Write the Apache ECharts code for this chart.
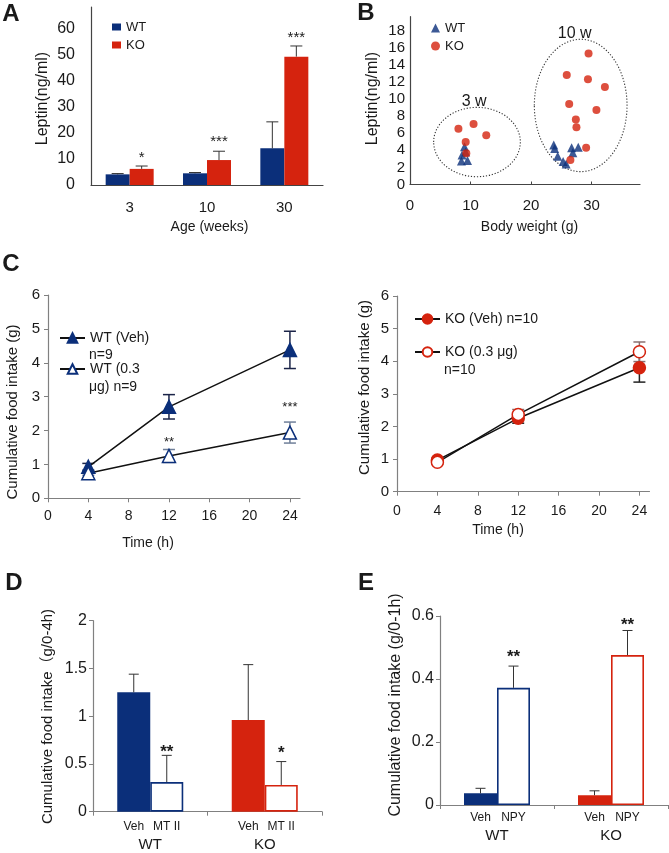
<!DOCTYPE html>
<html><head><meta charset="utf-8">
<script src="https://cdn.jsdelivr.net/npm/echarts@6/dist/echarts.min.js"></script>
<style>html,body{margin:0;padding:0;background:#fff}#c{width:669px;height:853px}</style>
</head><body><div id="c"></div>
<script>
// ---------- Panel A: leptin by age ----------
const ageWeeks = ['3', '10', '30'];
const leptinWT = [4.1, 4.5, 14.1];
const leptinWTErr = [0.3, 0.3, 10.2];
const leptinKO = [6.2, 9.6, 49.4];
const leptinKOErr = [1.1, 3.4, 4.1];
const leptinSig = ['*', '***', '***'];
const leptinSigY = [11.9, 18.0, 58.0];

// ---------- Panel B: leptin vs body weight ----------
const bWTWeight = [8.5, 9.5, 8.6, 9.0, 9.2, 23.75, 23.9, 24.4, 25.3, 25.8, 26.7, 26.9, 27.8];
const bWTLeptin = [2.75, 2.8, 3.45, 4.4, 3.8, 4.6, 4.2, 3.3, 2.7, 2.4, 4.3, 3.7, 4.35];
const bKOWeight = [8.0, 10.5, 12.6, 9.2, 9.3, 29.5, 25.9, 29.4, 32.2, 26.3, 30.8, 27.4, 27.5, 29.1, 26.5];
const bKOLeptin = [6.5, 7.07, 5.75, 4.97, 3.64, 15.3, 12.8, 12.3, 11.4, 9.4, 8.7, 7.6, 6.7, 4.3, 2.86];
const ageGroups = ['3 w', '10 w'];
const groupCenterW = [11.07, 28.2];
const groupCenterL = [4.96, 9.23];
const groupSpreadW = [7.16, 7.66];
const groupSpreadL = [4.05, 7.73];
const groupLabelW = [10.6, 27.2];
const groupLabelL = [9.7, 17.6];

// ---------- Panel C: cumulative food intake ----------
const timeH = [4, 12, 24];
const wtVeh = [0.93, 2.70, 4.38], wtVehErr = [0.10, 0.36, 0.55];
const wtMT = [0.74, 1.25, 1.94], wtMTErr = [0.06, 0.19, 0.31];
const koVeh = [0.97, 2.25, 3.80], koVehErr = [0.06, 0.15, 0.44];
const koMT = [0.90, 2.37, 4.29], koMTErr = [0.05, 0.15, 0.30];
const cSigT = [12, 24], cSigY = [1.74, 2.77], cSig = ['**', '***'];

// ---------- Panel D: MT II ----------
const dGroups = ['WT', 'KO'];
const dVeh = [1.25, 0.96], dVehErr = [0.19, 0.58];
const dMT = [0.31, 0.28], dMTErr = [0.28, 0.245];
const dSig = ['**', '*'], dSigY = [0.664, 0.653];

// ---------- Panel E: NPY ----------
const eGroups = ['WT', 'KO'];
const eVeh = [0.037, 0.031], eVehErr = [0.016, 0.014];
const eNPY = [0.372, 0.476], eNPYErr = [0.069, 0.078];
const eSig = ['**', '**'], eSigY = [0.482, 0.582];

// ---------- styles ----------
const FONT = "'Liberation Sans', Arial, 'Noto Sans CJK JP', sans-serif";
const NAVY = '#0b2f7a', RED = '#d5230e', AX = '#444', AXC = '#808080', TXT = '#1a1a1a';
const groupColors = [NAVY, RED];

function errBars(offset, capHalf, twoSided, color, width) {
  return function (params, api) {
    const x = api.value(0), v = api.value(1), e = api.value(2);
    const top = api.coord([x, v + e]);
    const mid = api.coord([x, v]);
    const bot = api.coord([x, v - e]);
    const cx = mid[0] + offset;
    const y0 = twoSided ? bot[1] : mid[1];
    const style = { stroke: color, lineWidth: width };
    const children = [
      { type: 'line', shape: { x1: cx, y1: y0, x2: cx, y2: top[1] }, style },
      { type: 'line', shape: { x1: cx - capHalf, y1: top[1], x2: cx + capHalf, y2: top[1] }, style }
    ];
    if (twoSided) children.push({ type: 'line', shape: { x1: cx - capHalf, y1: bot[1], x2: cx + capHalf, y2: bot[1] }, style });
    return { type: 'group', children };
  };
}
function sigText(texts, offset, size, bold) {
  return function (params, api) {
    const p = api.coord([api.value(0), api.value(1)]);
    return {
      type: 'text', x: p[0] + offset, y: p[1] + 0.23 * size,
      style: { text: texts[params.dataIndex], fill: TXT, font: (bold ? 'bold ' : '') + size + 'px ' + FONT,
        textAlign: 'center', textVerticalAlign: 'middle', align: 'center', verticalAlign: 'middle' }
    };
  };
}
function ellipseRender(params, api) {
  const i = params.dataIndex;
  const c = api.coord([api.value(0), api.value(1)]);
  const s = api.size([api.value(2), api.value(3)]);
  const lp = api.coord([groupLabelW[i], groupLabelL[i]]);
  return { type: 'group', children: [
    { type: 'ellipse', shape: { cx: c[0], cy: c[1], rx: s[0], ry: s[1] },
      style: { fill: 'none', stroke: '#333', lineWidth: 1.1, lineDash: [1.2, 1.8] } },
    { type: 'text', x: lp[0], y: lp[1], style: { text: ageGroups[i], fill: TXT, font: '16px ' + FONT,
      textAlign: 'center', textVerticalAlign: 'middle', align: 'center', verticalAlign: 'middle' } }
  ]};
}

const lbl = (size, extra) => Object.assign({ color: TXT, fontSize: size, fontFamily: FONT }, extra || {});
const axLine = (c) => ({ show: true, lineStyle: { color: c, width: 1.2 } });

const grids = [
  { left: 91, top: 7, width: 232, height: 178 },
  { left: 410, top: 16.7, width: 230, height: 167.8 },
  { left: 48, top: 295, width: 252, height: 203.3 },
  { left: 397, top: 296, width: 252.5, height: 195.7 },
  { left: 93, top: 620.7, width: 229, height: 191 },
  { left: 440, top: 616, width: 228, height: 189 }
].map(g => Object.assign({ containLabel: false, outerBoundsMode: 'none' }, g));

const xAxes = [
  { type: 'category', gridIndex: 0, data: ageWeeks, axisLine: axLine(AX), axisTick: { show: false },
    axisLabel: lbl(15, { margin: 15 }) },
  { type: 'value', gridIndex: 1, min: 0, max: 38, interval: 10, splitLine: { show: false }, axisLine: axLine(AX),
    axisTick: { show: true, inside: true, length: 3, lineStyle: { color: AX } }, axisLabel: lbl(15, { margin: 14, showMaxLabel: false }) },
  { type: 'value', gridIndex: 2, min: 0, max: 25, interval: 4, splitLine: { show: false }, axisLine: axLine(AXC),
    axisTick: { show: true, length: 4, lineStyle: { color: AXC } }, axisLabel: lbl(14, { margin: 11, showMaxLabel: false }) },
  { type: 'value', gridIndex: 3, min: 0, max: 25, interval: 4, splitLine: { show: false }, axisLine: axLine(AXC),
    axisTick: { show: true, length: 4, lineStyle: { color: AXC } }, axisLabel: lbl(14, { margin: 12, showMaxLabel: false }) },
  { type: 'category', gridIndex: 4, data: dGroups, axisLine: axLine(AXC),
    axisTick: { show: true, length: 4, lineStyle: { color: AXC } }, axisLabel: lbl(15, { margin: 26 }) },
  { type: 'category', gridIndex: 5, data: eGroups, axisLine: axLine(AXC),
    axisTick: { show: true, length: 4, lineStyle: { color: AXC } }, axisLabel: lbl(15, { margin: 23 }) }
];
const yAxes = [
  { type: 'value', gridIndex: 0, min: 0, max: 68.5, interval: 10, splitLine: { show: false }, axisLine: axLine(AX),
    axisTick: { show: false }, axisLabel: lbl(16, { margin: 16, showMaxLabel: false }) },
  { type: 'value', gridIndex: 1, min: 0, max: 19.6, interval: 2, splitLine: { show: false }, axisLine: axLine(AX),
    axisTick: { show: false }, axisLabel: lbl(15, { margin: 5, showMaxLabel: false }) },
  { type: 'value', gridIndex: 2, min: 0, max: 6, interval: 1, splitLine: { show: false }, axisLine: axLine(AXC),
    axisTick: { show: true, length: 4, lineStyle: { color: AXC } }, axisLabel: lbl(15, { margin: 8 }) },
  { type: 'value', gridIndex: 3, min: 0, max: 6, interval: 1, splitLine: { show: false }, axisLine: axLine(AXC),
    axisTick: { show: true, length: 4, lineStyle: { color: AXC } }, axisLabel: lbl(15, { margin: 8 }) },
  { type: 'value', gridIndex: 4, min: 0, max: 2, interval: 0.5, splitLine: { show: false }, axisLine: axLine(AXC),
    axisTick: { show: true, length: 4, lineStyle: { color: AXC } }, axisLabel: lbl(16, { margin: 6 }) },
  { type: 'value', gridIndex: 5, min: 0, max: 0.6, interval: 0.2, splitLine: { show: false }, axisLine: axLine(AXC),
    axisTick: { show: true, length: 4, lineStyle: { color: AXC } }, axisLabel: lbl(16, { margin: 6 }) }
];

const series = [];
// A
series.push({ name: 'WT', type: 'bar', xAxisIndex: 0, yAxisIndex: 0, data: leptinWT, barWidth: 24, barGap: '0%', itemStyle: { color: NAVY } });
series.push({ name: 'KO', type: 'bar', xAxisIndex: 0, yAxisIndex: 0, data: leptinKO, barWidth: 24, barGap: '0%', itemStyle: { color: RED } });
series.push({ type: 'custom', xAxisIndex: 0, yAxisIndex: 0, silent: true, z: 3, encode: { x: 0, y: 1 },
  data: leptinWT.map((v, i) => [i, v, leptinWTErr[i]]), renderItem: errBars(-12, 6, false, '#333', 1) });
series.push({ type: 'custom', xAxisIndex: 0, yAxisIndex: 0, silent: true, z: 3, encode: { x: 0, y: 1 },
  data: leptinKO.map((v, i) => [i, v, leptinKOErr[i]]), renderItem: errBars(12, 6, false, '#333', 1) });
series.push({ type: 'custom', xAxisIndex: 0, yAxisIndex: 0, silent: true, z: 3, encode: { x: 0, y: 1 },
  data: leptinSigY.map((y, i) => [i, y]), renderItem: sigText(leptinSig, 12, 15, false) });
// B
series.push({ type: 'custom', xAxisIndex: 1, yAxisIndex: 1, silent: true, z: 1, encode: { x: 0, y: 1 },
  data: groupCenterW.map((w, i) => [w, groupCenterL[i], groupSpreadW[i], groupSpreadL[i]]), renderItem: ellipseRender });
series.push({ name: 'WT ', type: 'scatter', xAxisIndex: 1, yAxisIndex: 1, symbol: 'triangle', symbolSize: 9,
  itemStyle: { color: NAVY }, data: bWTWeight.map((w, i) => [w, bWTLeptin[i]]), z: 3 });
series.push({ name: 'KO ', type: 'scatter', xAxisIndex: 1, yAxisIndex: 1, symbol: 'circle', symbolSize: 8,
  itemStyle: { color: RED }, data: bKOWeight.map((w, i) => [w, bKOLeptin[i]]), z: 3 });
// C
function lineSeries(name, xi, vals, symbol, fill, border) {
  return { name, type: 'line', xAxisIndex: xi, yAxisIndex: xi, data: timeH.map((t, i) => [t, vals[i]]),
    symbol, symbolSize: symbol === 'triangle' ? 13 : 12, showSymbol: true, z: 4,
    lineStyle: { color: '#111', width: 1.5 }, itemStyle: { color: fill, borderColor: border, borderWidth: 1.5 } };
}
function errSeries(xi, vals, errs, color) {
  return { type: 'custom', xAxisIndex: xi, yAxisIndex: xi, silent: true, z: 2, encode: { x: 0, y: 1 },
    data: timeH.map((t, i) => [t, vals[i], errs[i]]), renderItem: errBars(0, 6, true, color, 1.5) };
}
series.push(errSeries(2, wtVeh, wtVehErr, '#1b2448'));
series.push(errSeries(2, wtMT, wtMTErr, '#6f7f99'));
series.push(lineSeries('WT (Veh)', 2, wtVeh, 'triangle', NAVY, NAVY));
series.push(lineSeries('WT (0.3 μg)', 2, wtMT, 'triangle', '#fff', NAVY));
series.push({ type: 'custom', xAxisIndex: 2, yAxisIndex: 2, silent: true, z: 3, encode: { x: 0, y: 1 },
  data: cSigT.map((t, i) => [t, cSigY[i]]), renderItem: sigText(cSig, 0, 13, false) });
series.push(errSeries(3, koVeh, koVehErr, '#222'));
series.push(errSeries(3, koMT, koMTErr, '#8a7070'));
series.push(lineSeries('KO (Veh)', 3, koVeh, 'circle', RED, RED));
series.push(lineSeries('KO (0.3 μg)', 3, koMT, 'circle', '#fff', RED));
// D & E
function groupBars(xi, name, vals, filled, under, underDist) {
  return { name, type: 'bar', xAxisIndex: xi, yAxisIndex: xi, barWidth: 33, barGap: '0%',
    data: vals.map((v, i) => ({ value: v, itemStyle: filled ? { color: groupColors[i] } :
      { color: '#fff', borderColor: groupColors[i], borderWidth: 1.6 } })),
    label: { show: true, position: 'bottom', distance: underDist, formatter: under, color: TXT, fontSize: 12, fontFamily: FONT } };
}
function barErr(xi, vals, errs, offset) {
  return { type: 'custom', xAxisIndex: xi, yAxisIndex: xi, silent: true, z: 3, encode: { x: 0, y: 1 },
    data: vals.map((v, i) => [i, v, errs[i]]), renderItem: errBars(offset, 5, false, '#333', 1) };
}
series.push(groupBars(4, 'Veh', dVeh, true, 'Veh', 9));
series.push(groupBars(4, 'MT II', dMT, false, 'MT II', 9));
series.push(barErr(4, dVeh, dVehErr, -16.5));
series.push(barErr(4, dMT, dMTErr, 16.5));
series.push({ type: 'custom', xAxisIndex: 4, yAxisIndex: 4, silent: true, z: 3, encode: { x: 0, y: 1 },
  data: dSigY.map((y, i) => [i, y]), renderItem: sigText(dSig, 16.5, 17, true) });
series.push(groupBars(5, 'Veh', eVeh, true, 'Veh', 7));
series.push(groupBars(5, 'NPY', eNPY, false, 'NPY', 7));
series.push(barErr(5, eVeh, eVehErr, -16.5));
series.push(barErr(5, eNPY, eNPYErr, 16.5));
series.push({ type: 'custom', xAxisIndex: 5, yAxisIndex: 5, silent: true, z: 3, encode: { x: 0, y: 1 },
  data: eSigY.map((y, i) => [i, y]), renderItem: sigText(eSig, 16.5, 17, true) });

const legBase = { orient: 'vertical', padding: 0, selectedMode: false };
const legends = [
  Object.assign({ data: ['WT'], left: 112, top: 20.5, icon: 'rect', itemWidth: 9, itemHeight: 7, textStyle: lbl(13) }, legBase),
  Object.assign({ data: ['KO'], left: 112, top: 38.5, icon: 'rect', itemWidth: 9, itemHeight: 7, textStyle: lbl(13) }, legBase),
  Object.assign({ data: ['WT '], left: 431, top: 21.5, itemWidth: 9, itemHeight: 9, textStyle: lbl(13), formatter: n => n.trim() }, legBase),
  Object.assign({ data: ['KO '], left: 431, top: 39.5, itemWidth: 9, itemHeight: 9, textStyle: lbl(13), formatter: n => n.trim() }, legBase),
  Object.assign({ data: ['WT (Veh)'], left: 59, top: 331, itemWidth: 25, itemHeight: 12, textStyle: lbl(14) }, legBase),
  Object.assign({ data: ['WT (0.3 μg)'], left: 59, top: 362, itemWidth: 25, itemHeight: 12, textStyle: lbl(14), formatter: () => 'WT (0.3' }, legBase),
  Object.assign({ data: ['KO (Veh)'], left: 414, top: 312, itemWidth: 25, itemHeight: 12, textStyle: lbl(14), formatter: () => 'KO (Veh) n=10' }, legBase),
  Object.assign({ data: ['KO (0.3 μg)'], left: 414, top: 345, itemWidth: 25, itemHeight: 12, textStyle: lbl(14) }, legBase)
];

function gText(text, x, y, size, opts) {
  opts = opts || {};
  return { type: 'text', x, y, rotation: opts.rot ? Math.PI / 2 : 0, silent: true,
    style: { text, fill: TXT, font: (opts.bold ? 'bold ' : '') + size + 'px ' + FONT,
      textAlign: opts.align || 'center', textVerticalAlign: 'middle', align: opts.align || 'center', verticalAlign: 'middle' } };
}
const graphics = [
  gText('A', 11, 14, 24, { bold: true }),
  gText('B', 366, 13, 24, { bold: true }),
  gText('C', 11, 264, 24, { bold: true }),
  gText('D', 14, 583, 24, { bold: true }),
  gText('E', 366, 583, 24, { bold: true }),
  gText('Leptin(ng/ml)', 42.5, 98.5, 16, { rot: true }),
  gText('Leptin(ng/ml)', 372.5, 98.5, 16, { rot: true }),
  gText('Cumulative food intake (g)', 13, 412, 15, { rot: true }),
  gText('Cumulative food intake (g)', 365, 387.5, 15, { rot: true }),
  gText('Cumulative food intake（g/0-4h)', 47.5, 716.5, 15, { rot: true }),
  gText('Cumulative food intake (g/0-1h)', 395.7, 705, 16, { rot: true }),
  gText('Age (weeks)', 209.5, 227, 14),
  gText('Body weight (g)', 529.5, 227, 14),
  gText('Time (h)', 148, 543, 14),
  gText('Time (h)', 498, 530, 14),
  gText('n=9', 89, 355, 14, { align: 'left' }),
  gText('μg) n=9', 89, 387, 14, { align: 'left' }),
  gText('n=10', 444, 370, 14, { align: 'left' })
];

const chart = echarts.init(document.getElementById('c'), null, { renderer: 'canvas' });
chart.setOption({
  animation: false,
  backgroundColor: '#fff',
  textStyle: { fontFamily: FONT },
  grid: grids, xAxis: xAxes, yAxis: yAxes, legend: legends, series, graphic: graphics
});
</script></body></html>
